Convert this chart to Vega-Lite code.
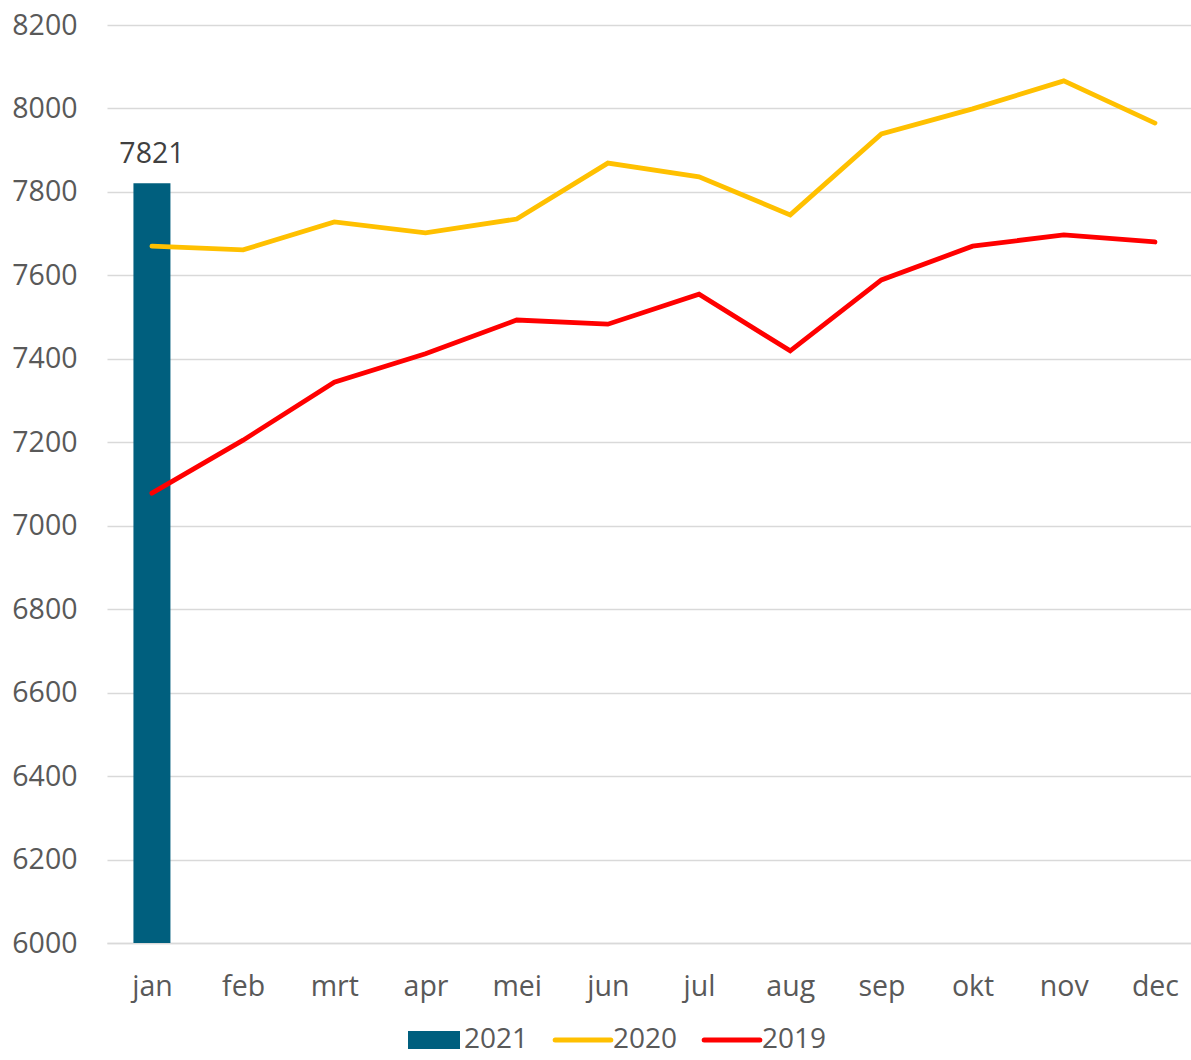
{
  "$schema": "https://vega.github.io/schema/vega-lite/v6.json",
  "width": 1084,
  "height": 918,
  "autosize": "none",
  "padding": {"left": 107, "top": 25, "right": 0, "bottom": 117},
  "background": "white",
  "config": {
    "view": {"stroke": null},
    "font": "Open Sans",
    "axis": {"labelFont": "Open Sans", "labelFontSize": 28.5, "labelColor": "#595959", "ticks": false, "title": null, "gridColor": "#D9D9D9", "gridWidth": 1.3}
  },
  "data": {
    "values": [
      {"month": "jan", "year": "2021", "value": 7821},
      {"month": "jan", "year": "2020", "value": 7670},
      {"month": "feb", "year": "2020", "value": 7661},
      {"month": "mrt", "year": "2020", "value": 7728},
      {"month": "apr", "year": "2020", "value": 7702},
      {"month": "mei", "year": "2020", "value": 7735},
      {"month": "jun", "year": "2020", "value": 7869},
      {"month": "jul", "year": "2020", "value": 7836},
      {"month": "aug", "year": "2020", "value": 7745},
      {"month": "sep", "year": "2020", "value": 7939},
      {"month": "okt", "year": "2020", "value": 7999},
      {"month": "nov", "year": "2020", "value": 8066},
      {"month": "dec", "year": "2020", "value": 7965},
      {"month": "jan", "year": "2019", "value": 7078},
      {"month": "feb", "year": "2019", "value": 7205},
      {"month": "mrt", "year": "2019", "value": 7344},
      {"month": "apr", "year": "2019", "value": 7412},
      {"month": "mei", "year": "2019", "value": 7493},
      {"month": "jun", "year": "2019", "value": 7483},
      {"month": "jul", "year": "2019", "value": 7555},
      {"month": "aug", "year": "2019", "value": 7419},
      {"month": "sep", "year": "2019", "value": 7589},
      {"month": "okt", "year": "2019", "value": 7670},
      {"month": "nov", "year": "2019", "value": 7697},
      {"month": "dec", "year": "2019", "value": 7680}
    ]
  },
  "encoding": {
    "x": {
      "field": "month", "type": "nominal",
      "sort": ["jan","feb","mrt","apr","mei","jun","jul","aug","sep","okt","nov","dec"],
      "scale": {"type": "point", "padding": 0.444, "align": 0.555},
      "axis": {"grid": false, "domain": true, "domainColor": "#D9D9D9", "domainWidth": 1.3, "labelPadding": 29, "labelAngle": 0}
    },
    "y": {
      "field": "value", "type": "quantitative",
      "scale": {"domain": [6000, 8200], "nice": false, "zero": false},
      "axis": {"values": [6000,6200,6400,6600,6800,7000,7200,7400,7600,7800,8000,8200], "domain": false, "labelPadding": 30, "format": "d"}
    }
  },
  "layer": [
    {
      "transform": [{"filter": "datum.year == '2021'"}],
      "mark": {"type": "bar", "width": 37},
      "encoding": {
        "y2": {"datum": 6000},
        "color": {
          "field": "year", "type": "nominal",
          "scale": {"domain": ["2021", "2020", "2019"], "range": ["#005F7E", "#FFC000", "#FF0000"]},
          "legend": {
            "title": null,
            "orient": "none",
            "legendX": 313,
            "legendY": 1001,
            "direction": "horizontal",
            "labelFont": "Open Sans",
            "labelFontSize": 28,
            "labelColor": "#595959",
            "labelOffset": 16,
            "columnPadding": 16,
            "symbolSize": 2704,
            "encode": {
              "symbols": {
                "update": {
                  "shape": {"signal": "datum.value == '2021' ? 'M-1,-0.35H1V0.35H-1Z' : 'M-1.07,0H1.07'"},
                  "fill": {"signal": "datum.value == '2021' ? scale('color', datum.value) : 'transparent'"},
                  "stroke": {"signal": "scale('color', datum.value)"},
                  "strokeWidth": {"signal": "datum.value == '2021' ? 0 : 5"},
                  "strokeCap": {"value": "round"},
                  "opacity": {"value": 1}
                }
              }
            }
          }
        }
      }
    },
    {
      "transform": [{"filter": "datum.year != '2021'"}],
      "mark": {"type": "line", "strokeWidth": 4.8, "strokeCap": "round", "strokeJoin": "miter"},
      "encoding": {
        "color": {"field": "year", "type": "nominal"}
      }
    },
    {
      "transform": [{"filter": "datum.year == '2021'"}],
      "mark": {"type": "text", "baseline": "alphabetic", "dy": -20, "fontSize": 28.5, "color": "#404040", "font": "Open Sans"},
      "encoding": {
        "text": {"field": "value", "type": "quantitative", "format": "d"}
      }
    }
  ]
}
